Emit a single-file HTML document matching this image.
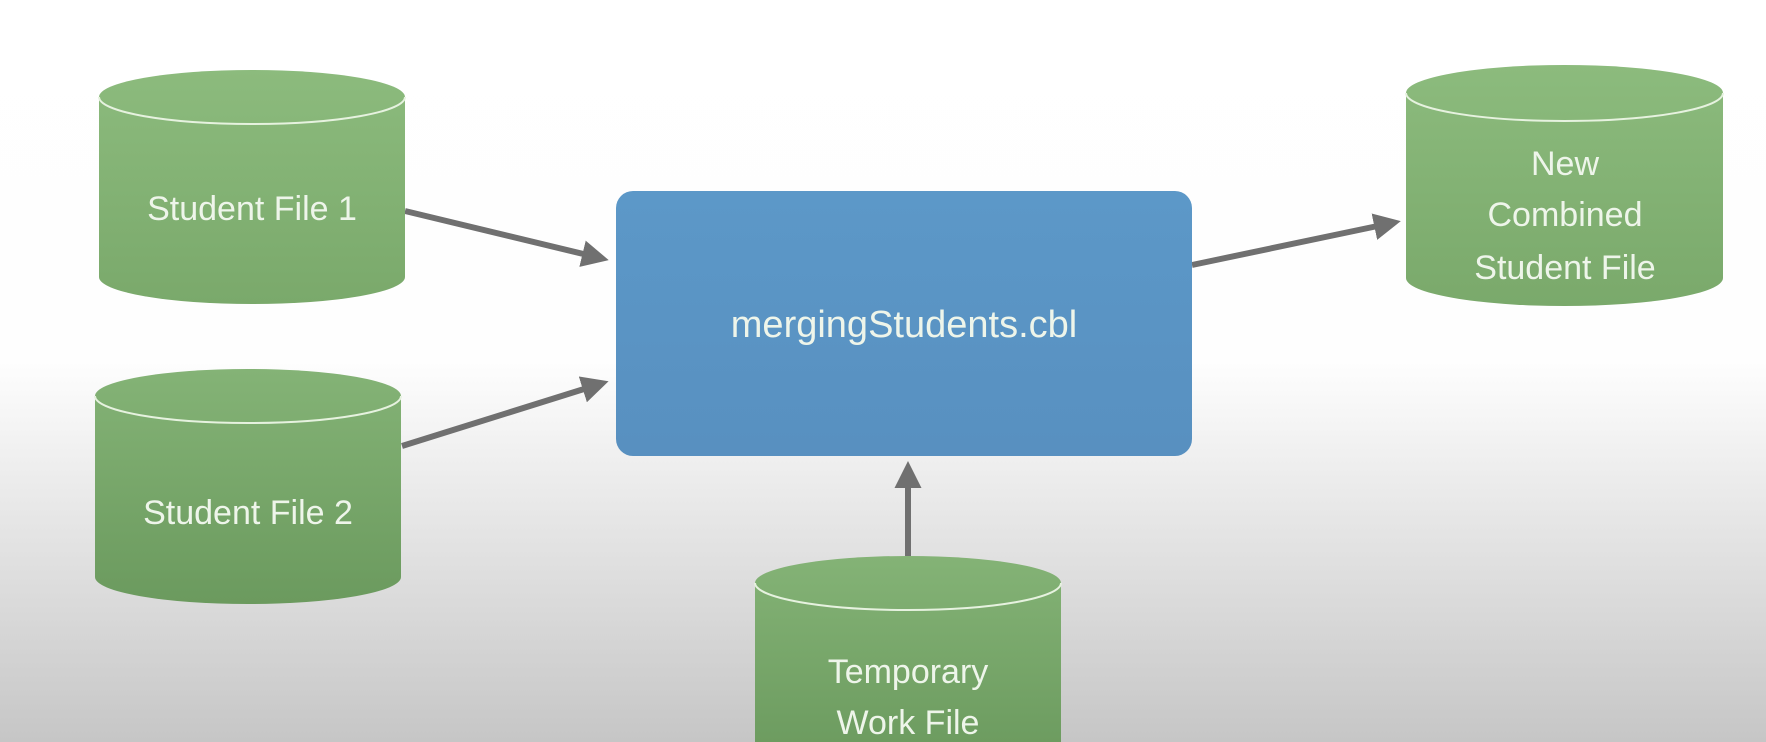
<!DOCTYPE html>
<html><head><style>
html,body{margin:0;padding:0;}
body{width:1766px;height:742px;overflow:hidden;background:linear-gradient(to bottom,#ffffff 0px,#fefefe 360px,#e6e6e6 520px,#c6c6c6 742px);}
svg{display:block;}
text{font-family:"Liberation Sans",sans-serif;fill:#eef5ea;text-anchor:middle;}
</style></head><body>
<svg width="1766" height="742" viewBox="0 0 1766 742">
<defs>
<linearGradient id="g" x1="0" y1="0" x2="0" y2="1">
<stop offset="0" stop-color="#8cbb7d"/><stop offset="1" stop-color="#7aa96b"/></linearGradient>
<linearGradient id="g2" x1="0" y1="0" x2="0" y2="1">
<stop offset="0" stop-color="#84b376"/><stop offset="1" stop-color="#6b9a5e"/></linearGradient>
<linearGradient id="b" x1="0" y1="0" x2="0" y2="1">
<stop offset="0" stop-color="#5c98c8"/><stop offset="1" stop-color="#5890c0"/></linearGradient>
<marker id="a" markerWidth="4.5" markerHeight="4.5" refX="3" refY="2.25" orient="auto" markerUnits="strokeWidth">
<path d="M0,0 L4.5,2.25 L0,4.5 z" fill="#707070"/></marker>
</defs>
<g stroke="#707070" stroke-width="6" fill="none">
<line x1="405" y1="211" x2="600" y2="258" marker-end="url(#a)"/>
<line x1="402" y1="446" x2="600" y2="384" marker-end="url(#a)"/>
<line x1="1192" y1="265" x2="1392" y2="223" marker-end="url(#a)"/>
<line x1="908" y1="556" x2="908" y2="470" marker-end="url(#a)"/>
</g>
<path d="M99,97 A153,27 0 0 1 405,97 L405,277 A153,27 0 0 1 99,277 Z" fill="url(#g)"/>
<path d="M99,97 A153,27 0 0 0 405,97" fill="none" stroke="#e6f2df" stroke-width="2"/>
<text x="252" y="220" font-size="34">Student File 1</text>
<path d="M95,396 A153,27 0 0 1 401,396 L401,577 A153,27 0 0 1 95,577 Z" fill="url(#g2)"/>
<path d="M95,396 A153,27 0 0 0 401,396" fill="none" stroke="#e6f2df" stroke-width="2"/>
<text x="248" y="524" font-size="34">Student File 2</text>
<path d="M1406,93 A158.5,28 0 0 1 1723,93 L1723,278 A158.5,28 0 0 1 1406,278 Z" fill="url(#g)"/>
<path d="M1406,93 A158.5,28 0 0 0 1723,93" fill="none" stroke="#e6f2df" stroke-width="2"/>
<text x="1565" y="175" font-size="34">New</text>
<text x="1565" y="226" font-size="34">Combined</text>
<text x="1565" y="279" font-size="34">Student File</text>
<path d="M755,583 A153,27 0 0 1 1061,583 L1061,760 L755,760 Z" fill="url(#g2)"/>
<path d="M755,583 A153,27 0 0 0 1061,583" fill="none" stroke="#e6f2df" stroke-width="2"/>
<text x="908" y="683" font-size="34">Temporary</text>
<text x="908" y="734" font-size="34">Work File</text>
<rect x="616" y="191" width="576" height="265" rx="17" fill="url(#b)"/>
<text x="904" y="337" font-size="38">mergingStudents.cbl</text>
</svg>
</body></html>
